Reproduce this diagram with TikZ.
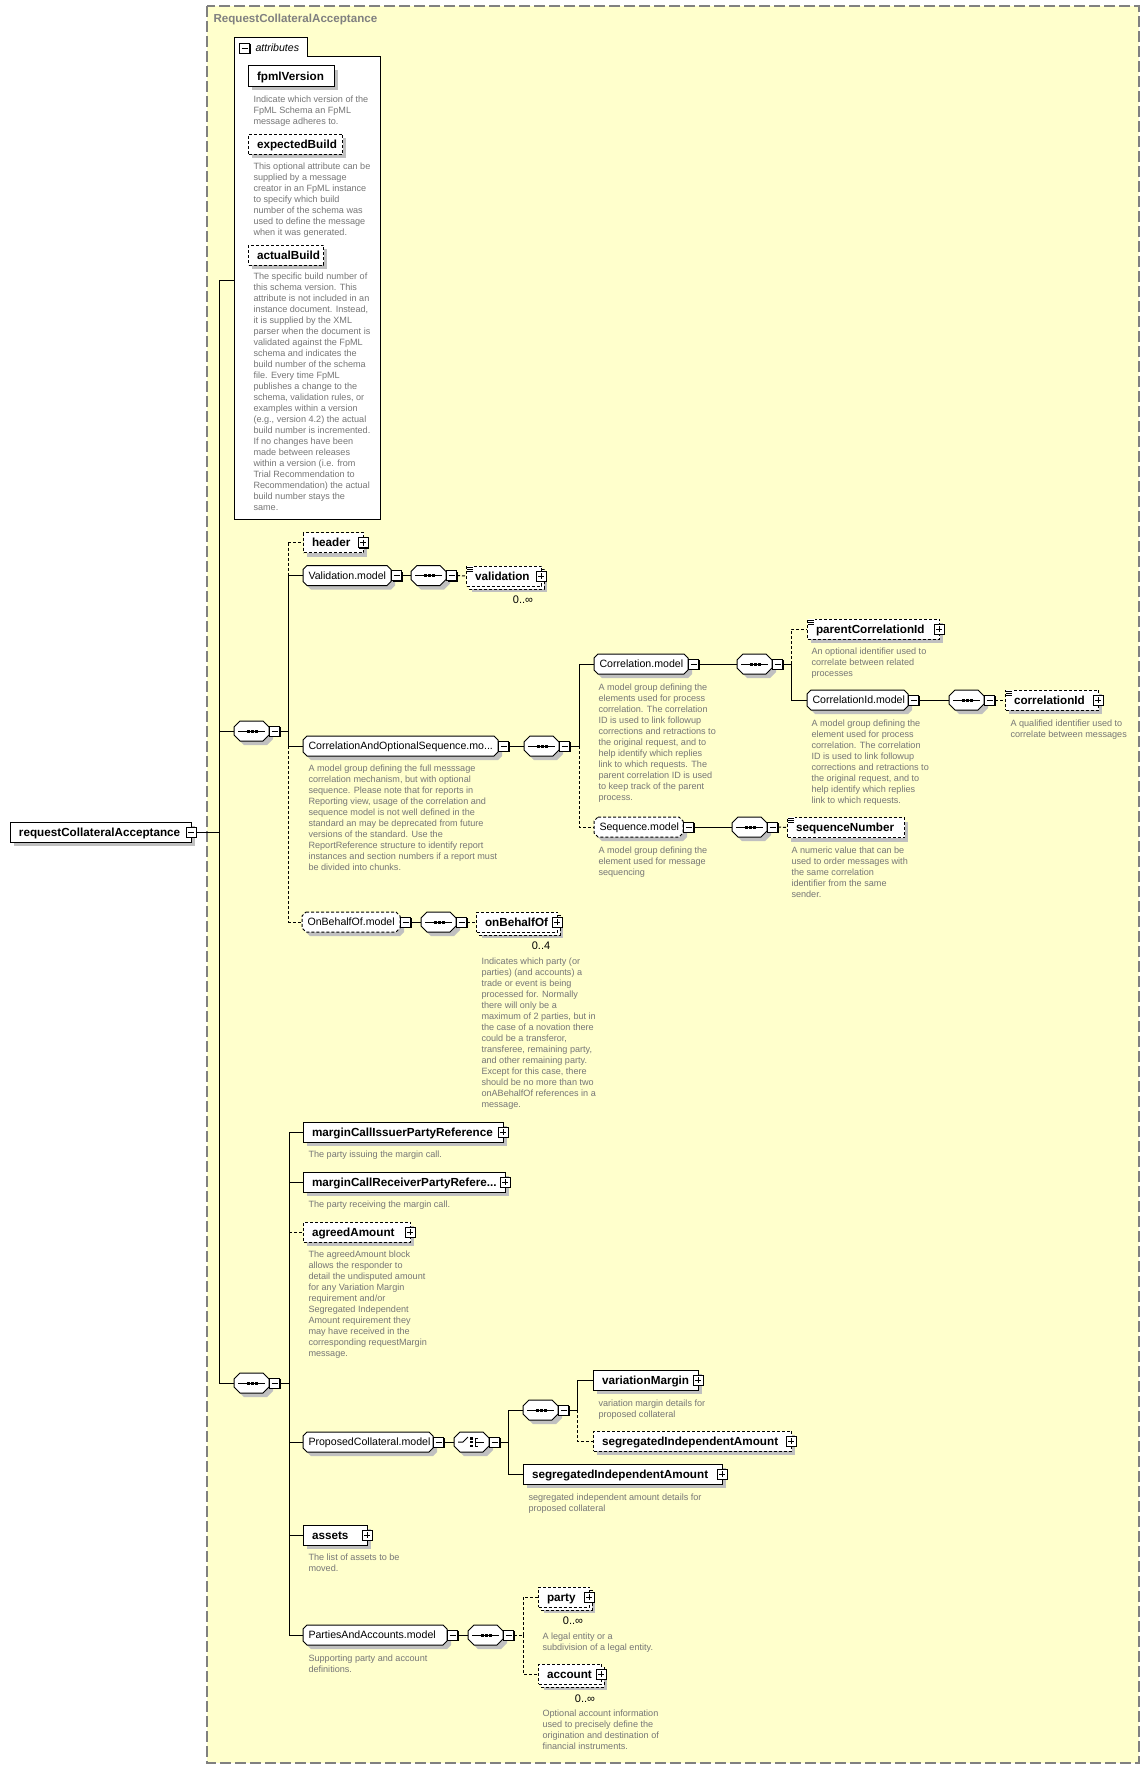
\documentclass[tikz,border=0pt]{standalone}
\usepackage{fontspec}
\setmainfont{Liberation Sans}
\usetikzlibrary{calc}
\definecolor{bgyellow}{RGB}{255,255,204}
\definecolor{shgray}{RGB}{192,192,192}
\definecolor{descgray}{RGB}{118,118,118}
\definecolor{framegray}{RGB}{128,128,128}
\tikzset{
  ebox/.style={rectangle,draw=black,fill=white,inner sep=0pt,minimum height=20pt,anchor=west},
  etext/.style={anchor=base west,inner sep=0pt,font=\bfseries\fontsize{11.7}{13}\selectfont},
  mgnode/.style={rectangle,draw=none,inner sep=0pt,minimum height=20pt,anchor=west},
  mtext/.style={anchor=base west,inner sep=0pt,font=\fontsize{10.6}{12}\selectfont},
  dtext/.style={anchor=base west,inner sep=0pt,text=descgray,font=\fontsize{9.1}{11}\selectfont},
  pmsq/.style={rectangle,draw=black,fill=white,inner sep=0pt,minimum size=10pt},
  dbd/.style={dash pattern=on 3pt off 2pt},
  dl/.style={dash pattern=on 3pt off 2pt},
  multxt/.style={anchor=base,inner sep=0pt,font=\fontsize{11}{12}\selectfont},
  ttl/.style={anchor=base west,inner sep=0pt,text=framegray,font=\bfseries\fontsize{11.6}{13}\selectfont},
}
% plus / minus box: name, x centre, y centre, 1=plus 0=minus
\newcommand{\xPm}[4]{%
  \fill (#2-4,#3-4) rectangle (#2+6,#3+6);
  \node[pmsq] (#1) at (#2,#3) {};
  \draw (#2-3,#3) -- (#2+3,#3);
  \ifnum#4=1 \draw (#2,#3-3) -- (#2,#3+3);\fi
}
% octagon path: x1, x2, yc, cut, style
\newcommand{\xOct}[5]{%
  \path[#5] (#1+#4,#3-10) -- (#2-#4,#3-10) -- (#2,#3-10+#4) -- (#2,#3+10-#4)
    -- (#2-#4,#3+10) -- (#1+#4,#3+10) -- (#1,#3+10-#4) -- (#1,#3-10+#4) -- cycle;
}
% element: name, x1, x2, yc, text, border style, plus
\newcommand{\xEl}[7]{%
  \fill[shgray] (#2+4,#4-6) rectangle (#3+4,#4+14);
  \node[ebox,#6,minimum width=#3-#2] (#1) at (#2,#4) {};
  \node[etext] (#1-t) at (#2+8.5,#4+4.2) {#5};
  \ifnum#7=1 \xPm{#1-pm}{#3}{#4}{1}\fi
}
% element with several occurrences
\newcommand{\xElm}[7]{%
  \fill[shgray] (#2+6,#4-4) rectangle (#3+6,#4+16);
  \draw[fill=white,#6] (#2+3,#4-7) rectangle (#3+3,#4+13);
  \node[ebox,#6,minimum width=#3-#2] (#1) at (#2,#4) {};
  \node[etext] (#1-t) at (#2+8.5,#4+4.2) {#5};
  \ifnum#7=1 \xPm{#1-pm}{#3}{#4}{1}\fi
}
% model group: name, x1, x2, yc, text, style
\newcommand{\xMg}[6]{%
  \begin{scope}[shift={(4,4)}]\xOct{#2}{#3}{#4}{4}{fill=shgray}\end{scope}
  \node[mgnode,minimum width=#3-#2] (#1) at (#2,#4) {};
  \xOct{#2}{#3}{#4}{4}{draw,fill=white,#6}
  \node[mtext] (#1-t) at (#2+5,#4+3.8) {#5};
  \xPm{#1-pm}{#3+5.5}{#4}{0}
}
% sequence compositor: name, x1, yc
\newcommand{\xSq}[3]{%
  \begin{scope}[shift={(4,4)}]\xOct{#2}{#2+35}{#3}{6}{fill=shgray}\end{scope}
  \node[mgnode,minimum width=35] (#1) at (#2,#3) {};
  \xOct{#2}{#2+35}{#3}{6}{draw,fill=white}
  \draw (#2+4,#3) -- (#2+31,#3);
  \fill (#2+12.5,#3-1.5) rectangle (#2+15.5,#3+1.5);
  \fill (#2+16.5,#3-1.5) rectangle (#2+19.5,#3+1.5);
  \fill (#2+20.5,#3-1.5) rectangle (#2+23.5,#3+1.5);
  \xPm{#1-pm}{#2+35+5.5}{#3}{0}
}
% choice compositor: name, x1, yc
\newcommand{\xCh}[3]{%
  \begin{scope}[shift={(4,4)}]\xOct{#2}{#2+35}{#3}{6}{fill=shgray}\end{scope}
  \node[mgnode,minimum width=35] (#1) at (#2,#3) {};
  \xOct{#2}{#2+35}{#3}{6}{draw,fill=white}
  \draw (#2+4,#3) -- (#2+9,#3) -- (#2+14,#3-5);
  \fill (#2+16,#3-5) rectangle (#2+18.5,#3-2.5);
  \fill (#2+16,#3-1.25) rectangle (#2+18.5,#3+1.25);
  \fill (#2+16,#3+2.5) rectangle (#2+18.5,#3+5);
  \draw (#2+24,#3-4) -- (#2+21,#3-4) -- (#2+21,#3+4) -- (#2+24,#3+4);
  \draw (#2+21,#3) -- (#2+30,#3);
  \xPm{#1-pm}{#2+35+5.5}{#3}{0}
}
% simple-content icon at top left of a box
\newcommand{\xEq}[2]{%
  \fill[white] (#1+0.5,#2-0.5) rectangle (#1+8,#2+6);
  \draw[line width=0.8pt] (#1+1,#2+1) -- (#1+7,#2+1);
  \draw[line width=0.8pt] (#1+1,#2+3) -- (#1+7,#2+3);
  \draw[line width=0.8pt] (#1+1,#2+5) -- (#1+7,#2+5);
}
\newcommand{\xDesc}[4]{\node[dtext] (#1) at (#2,#3) {\begin{tabular}[t]{@{}l@{}}#4\end{tabular}};}

\begin{document}
\begin{tikzpicture}[x=1pt,y=-1pt,line width=1pt]
\useasboundingbox (0,0) rectangle (1144,1769);
\fill[white] (0,0) rectangle (1144,1769);
% frame
\draw[framegray,fill=bgyellow,line width=1.2pt,dash pattern=on 11pt off 4pt] (207,6) rectangle (1139,1763);
\node[ttl] (title) at (213,23) {RequestCollateralAcceptance};

% attributes
\draw[fill=white] (234,519) -- (234,38) -- (307,38) -- (307,57) -- (380,57) -- (380,519) -- cycle;
\node[mgnode,minimum width=146,minimum height=462,anchor=north west] (attrbox) at (234,57) {};
\xPm{attrpm}{244.5}{48.5}{0}
\node[mtext,font=\itshape\fontsize{10.6}{12}\selectfont] (attrlbl) at (255,52) {attributes};
\xEl{fpml}{248}{334}{76}{fpmlVersion}{solid}{0}
\xDesc{fpmld}{253}{102}{Indicate which version of the\\FpML Schema an FpML\\message adheres to.}
\xEl{expb}{248}{342}{144}{expectedBuild}{dbd}{0}
\xDesc{expbd}{253}{169}{This optional attribute can be\\supplied by a message\\creator in an FpML instance\\to specify which build\\number of the schema was\\used to define the message\\when it was generated.}
\xEl{actb}{248}{323}{255}{actualBuild}{dbd}{0}
\xDesc{actbd}{253}{279}{The specific build number of\\this schema version. This\\attribute is not included in an\\instance document. Instead,\\it is supplied by the XML\\parser when the document is\\validated against the FpML\\schema and indicates the\\build number of the schema\\file. Every time FpML\\publishes a change to the\\schema, validation rules, or\\examples within a version\\(e.g., version 4.2) the actual\\build number is incremented.\\If no changes have been\\made between releases\\within a version (i.e. from\\Trial Recommendation to\\Recommendation) the actual\\build number stays the\\same.}

% root
\xEl{root}{10}{191}{832}{requestCollateralAcceptance}{solid}{0}
\xPm{root-pm}{191}{832}{0}
\coordinate (mainj) at (219,832);
\coordinate (vtop) at (219,280);
\coordinate (vbot) at (219,1383);
\draw (root-pm.east) -- (mainj);
\draw (vtop) -- (vbot);
\draw (vtop) -- (vtop -| attrbox.west);

% first sequence
\xSq{s1}{234}{731}
\draw (mainj |- s1.west) -- (s1.west);
\coordinate (b1) at (288,731);
\draw (s1-pm.east) -- (b1);

\xEl{header}{303}{363}{542.5}{header}{dbd}{1}
\xMg{valm}{303}{391}{575.5}{Validation.model}{}
\xMg{cos}{303}{498}{746}{CorrelationAndOptionalSequence.mo...}{}
\xDesc{cosd}{308}{771}{A model group defining the full messsage\\correlation mechanism, but with optional\\sequence. Please note that for reports in\\Reporting view, usage of the correlation and\\sequence model is not well defined in the\\standard an may be deprecated from future\\versions of the standard. Use the\\ReportReference structure to identify report\\instances and section numbers if a report must\\be divided into chunks.}
\xMg{obo}{302}{400}{922}{OnBehalfOf.model}{dbd}

\draw[dl] (b1 |- header.west) -- (b1 |- valm.west);
\draw (b1 |- valm.west) -- (b1 |- cos.west);
\draw[dl] (b1 |- cos.west) -- (b1 |- obo.west);
\draw[dl] (b1 |- header.west) -- (header.west);
\draw (b1 |- valm.west) -- (valm.west);
\draw (b1 |- cos.west) -- (cos.west);
\draw[dl] (b1 |- obo.west) -- (obo.west);

% validation
\xSq{s2}{411}{575.5}
\draw (valm-pm.east) -- (s2.west);
\xElm{validation}{466}{541}{576}{validation}{dbd}{1}
\xEq{466}{566}
\draw[dl] (s2-pm.east) -- (validation.west);
\node[multxt] (valmul) at (523,603) {0..∞};

% correlation and optional sequence
\xSq{s3}{524}{746}
\draw (cos-pm.east) -- (s3.west);
\coordinate (b2) at (579,746);
\draw (s3-pm.east) -- (b2);
\xMg{corrm}{594}{688}{664}{Correlation.model}{}
\xDesc{corrmd}{598}{690}{A model group defining the\\elements used for process\\correlation. The correlation\\ID is used to link followup\\corrections and retractions to\\the original request, and to\\help identify which replies\\link to which requests. The\\parent correlation ID is used\\to keep track of the parent\\process.}
\xMg{seqm}{594}{683}{827}{Sequence.model}{dbd}
\xDesc{seqmd}{598}{853}{A model group defining the\\element used for message\\sequencing}
\draw (b2) -- (b2 |- corrm.west) -- (corrm.west);
\draw[dl] (b2) -- (b2 |- seqm.west) -- (seqm.west);

\xSq{s4}{737}{664}
\draw (corrm-pm.east) -- (s4.west);
\coordinate (b3) at (791,664);
\draw (s4-pm.east) -- (b3);
\xEl{pcid}{807}{939}{629}{parentCorrelationId}{dbd}{1}
\xEq{807}{619}
\xDesc{pcidd}{811}{654}{An optional identifier used to\\correlate between related\\processes}
\xMg{cidm}{807}{908}{700}{CorrelationId.model}{}
\xDesc{cidmd}{811}{726}{A model group defining the\\element used for process\\correlation. The correlation\\ID is used to link followup\\corrections and retractions to\\the original request, and to\\help identify which replies\\link to which requests.}
\draw[dl] (b3) -- (b3 |- pcid.west) -- (pcid.west);
\draw (b3) -- (b3 |- cidm.west) -- (cidm.west);

\xSq{s5}{949}{700}
\draw (cidm-pm.east) -- (s5.west);
\xEl{cid}{1005}{1098}{700}{correlationId}{dbd}{1}
\xEq{1005}{690}
\draw[dl] (s5-pm.east) -- (cid.west);
\xDesc{cidd}{1010}{726}{A qualified identifier used to\\correlate between messages}

\xSq{s6}{732}{827}
\draw (seqm-pm.east) -- (s6.west);
\xEl{seqn}{787}{904}{827.5}{sequenceNumber}{dbd}{0}
\xEq{787}{817.5}
\draw[dl] (s6-pm.east) -- (seqn.west);
\xDesc{seqnd}{791}{853}{A numeric value that can be\\used to order messages with\\the same correlation\\identifier from the same\\sender.}

% on behalf of
\xSq{s7}{421}{922}
\draw (obo-pm.east) -- (s7.west);
\xElm{onb}{476}{557}{922}{onBehalfOf}{dbd}{1}
\draw[dl] (s7-pm.east) -- (onb.west);
\node[multxt] (onbmul) at (541,949) {0..4};
\xDesc{onbd}{481}{964}{Indicates which party (or\\parties) (and accounts) a\\trade or event is being\\processed for. Normally\\there will only be a\\maximum of 2 parties, but in\\the case of a novation there\\could be a transferor,\\transferee, remaining party,\\and other remaining party.\\Except for this case, there\\should be no more than two\\onABehalfOf references in a\\message.}

% second sequence
\xSq{s8}{234}{1383}
\draw (mainj |- s8.west) -- (s8.west);
\coordinate (b4) at (289,1383);
\draw (s8-pm.east) -- (b4);

\xEl{mcip}{303}{503}{1132}{marginCallIssuerPartyReference}{solid}{1}
\xDesc{mcipd}{308}{1157}{The party issuing the margin call.}
\xEl{mcrp}{303}{505}{1182}{marginCallReceiverPartyRefere...}{solid}{1}
\xDesc{mcrpd}{308}{1207}{The party receiving the margin call.}
\xEl{agr}{303}{410}{1232}{agreedAmount}{dbd}{1}
\xDesc{agrd}{308}{1257}{The agreedAmount block\\allows the responder to\\detail the undisputed amount\\for any Variation Margin\\requirement and/or\\Segregated Independent\\Amount requirement they\\may have received in the\\corresponding requestMargin\\message.}
\xMg{pcm}{303}{433}{1442}{ProposedCollateral.model}{}
\xEl{assets}{303}{367}{1535}{assets}{solid}{1}
\xDesc{assetsd}{308}{1560}{The list of assets to be\\moved.}
\xMg{pam}{303}{447}{1635}{PartiesAndAccounts.model}{}
\xDesc{pamd}{308}{1661}{Supporting party and account\\definitions.}

\draw (b4 |- mcip.west) -- (b4 |- pam.west);
\draw (b4 |- mcip.west) -- (mcip.west);
\draw (b4 |- mcrp.west) -- (mcrp.west);
\draw[dl] (b4 |- agr.west) -- (agr.west);
\draw (b4 |- pcm.west) -- (pcm.west);
\draw (b4 |- assets.west) -- (assets.west);
\draw (b4 |- pam.west) -- (pam.west);

% proposed collateral
\xCh{c1}{454}{1442}
\draw (pcm-pm.east) -- (c1.west);
\coordinate (b5) at (508,1442);
\draw (c1-pm.east) -- (b5);
\xSq{s9}{523}{1410}
\xEl{sia2}{523}{722}{1474}{segregatedIndependentAmount}{solid}{1}
\xDesc{sia2d}{528}{1500}{segregated independent amount details for\\proposed collateral}
\draw (b5) -- (b5 |- s9.west) -- (s9.west);
\draw (b5) -- (b5 |- sia2.west) -- (sia2.west);
\coordinate (b6) at (577,1410);
\draw (s9-pm.east) -- (b6);
\xEl{vm}{593}{698}{1380}{variationMargin}{solid}{1}
\xDesc{vmd}{598}{1406}{variation margin details for\\proposed collateral}
\xEl{sia1}{593}{791}{1441}{segregatedIndependentAmount}{dbd}{1}
\draw (b6) -- (b6 |- vm.west) -- (vm.west);
\draw[dl] (b6) -- (b6 |- sia1.west) -- (sia1.west);

% parties and accounts
\xSq{s10}{468}{1635}
\draw (pam-pm.east) -- (s10.west);
\coordinate (b7) at (523,1635);
\draw[dl] (s10-pm.east) -- (b7);
\xElm{party}{538}{589}{1597}{party}{dbd}{1}
\node[multxt] (partymul) at (573,1624) {0..∞};
\xDesc{partyd}{542}{1639}{A legal entity or a\\subdivision of a legal entity.}
\xElm{account}{538}{601}{1674}{account}{dbd}{1}
\node[multxt] (accmul) at (585,1702) {0..∞};
\xDesc{accountd}{542}{1716}{Optional account information\\used to precisely define the\\origination and destination of\\financial instruments.}
\draw[dl] (b7) -- (b7 |- party.west) -- (party.west);
\draw[dl] (b7) -- (b7 |- account.west) -- (account.west);
\end{tikzpicture}
\end{document}
